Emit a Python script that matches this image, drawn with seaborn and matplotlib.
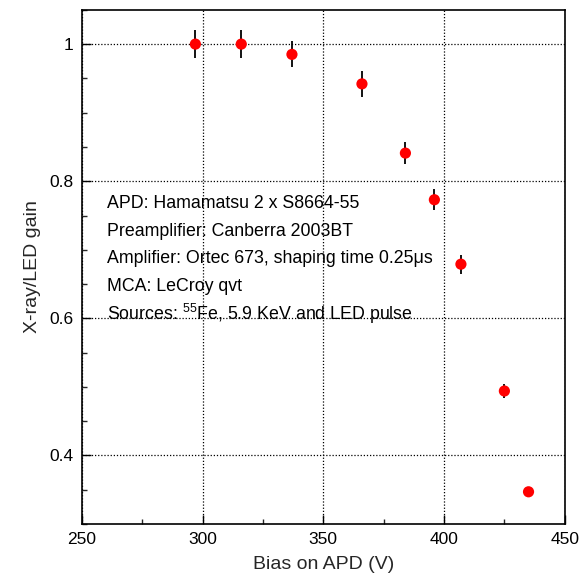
import matplotlib
matplotlib.use("Agg")
import matplotlib.pyplot as plt
import seaborn as sns
import pandas as pd
from matplotlib.ticker import MultipleLocator

bias = [297, 316, 337, 366, 384, 396, 407, 425, 435]
gain = [1.000, 1.000, 0.985, 0.942, 0.841, 0.773, 0.679, 0.494, 0.347]
err = [0.020, 0.020, 0.019, 0.019, 0.016, 0.015, 0.014, 0.010, 0.004]

notes = [
    "APD: Hamamatsu 2 x S8664-55",
    "Preamplifier: Canberra 2003BT",
    "Amplifier: Ortec 673, shaping time 0.25\u03bcs",
    "MCA: LeCroy qvt",
    "Sources: $^{55}$Fe, 5.9 KeV and LED pulse",
]
note_y = [0.768, 0.727, 0.688, 0.647, 0.607]

sns.set_style("ticks")
plt.rcParams["font.family"] = ["Liberation Sans", "DejaVu Sans"]
plt.rcParams["mathtext.fontset"] = "custom"
plt.rcParams["mathtext.rm"] = "Liberation Sans"
plt.rcParams["mathtext.it"] = "Liberation Sans:italic"

df = pd.DataFrame({"bias": bias, "gain": gain, "err": err})

fig = plt.figure(figsize=(5.81, 5.78), dpi=100)
ax = fig.add_axes([0.141, 0.0934, 0.831, 0.8896])

ax.errorbar(df["bias"], df["gain"], yerr=df["err"], fmt="none",
            ecolor="black", elinewidth=1.3, capsize=0, zorder=2)
sns.scatterplot(data=df, x="bias", y="gain", ax=ax, color="red",
                s=65, edgecolor="none", zorder=3)

ax.set_xlim(250, 450)
ax.set_ylim(0.3, 1.05)
ax.xaxis.set_major_locator(MultipleLocator(50))
ax.xaxis.set_minor_locator(MultipleLocator(25))
ax.yaxis.set_major_locator(MultipleLocator(0.2))
ax.yaxis.set_minor_locator(MultipleLocator(0.05))
ax.set_yticks([0.4, 0.6, 0.8, 1.0])
ax.set_yticklabels(["0.4", "0.6", "0.8", "1"])

ax.grid(True, which="major", color="black", linestyle=(0, (1, 1.5)), linewidth=0.9)
ax.tick_params(which="major", direction="in", length=6.5, width=1.0,
               labelsize=12.5, colors="black", pad=6)
ax.tick_params(which="minor", direction="in", length=3.6, width=1.0)
for sp in ax.spines.values():
    sp.set_linewidth(1.2)
    sp.set_color("black")

ax.set_xlabel("Bias on APD (V)", fontsize=14, labelpad=6)
ax.set_ylabel("X-ray/LED gain", fontsize=14, labelpad=6)

for t, y in zip(notes, note_y):
    ax.text(260.3, y, t, fontsize=12.8, va="center", ha="left", color="black")

fig.savefig("out.png", dpi=100)
